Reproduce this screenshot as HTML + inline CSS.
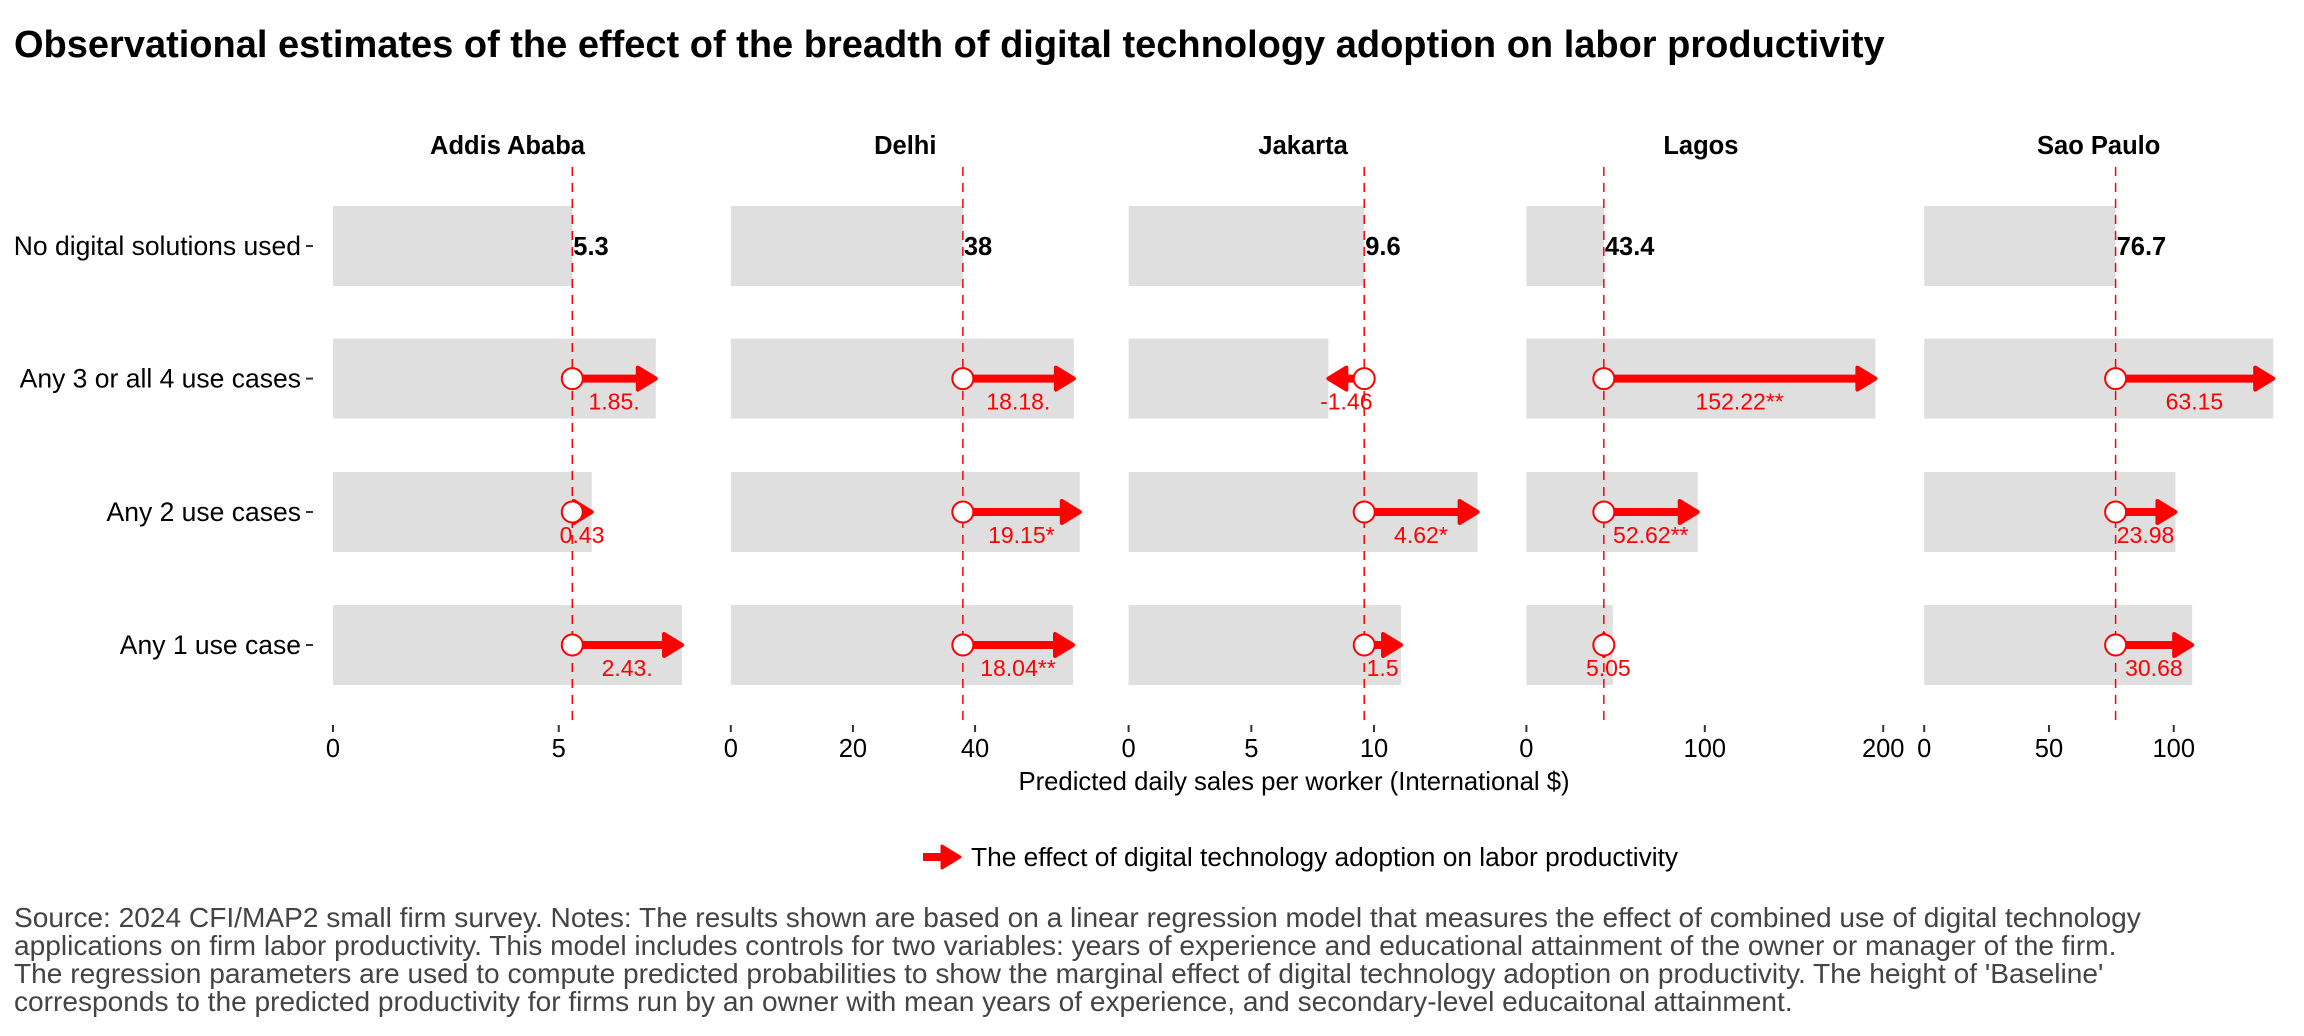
<!DOCTYPE html>
<html><head><meta charset="utf-8"><style>
body{margin:0;background:#fff;}
svg{display:block;font-family:"Liberation Sans",Arial,sans-serif;}
</style></head><body>
<svg id="chart" width="2304" height="1036" viewBox="0 0 2304 1036">
<text x="14" y="57" font-size="38" font-weight="bold" fill="#000">Observational estimates of the effect of the breadth of digital technology adoption on labor productivity</text>
<g id="plot"></g>
<text x="1294" y="790" font-size="25.7" text-anchor="middle" fill="#000">Predicted daily sales per worker (International $)</text>
<g>
<line x1="923" y1="857" x2="944" y2="857" stroke="#ff0000" stroke-width="8"/>
<polygon points="942,846 960,857 942,868" fill="#ff0000" stroke="#ff0000" stroke-width="3" stroke-linejoin="round"/>
<text x="971" y="866" font-size="26.3" fill="#000">The effect of digital technology adoption on labor productivity</text>
</g>
<g font-size="28.1" fill="#444">
<text x="14" y="927">Source: 2024 CFI/MAP2 small firm survey. Notes: The results shown are based on a linear regression model that measures the effect of combined use of digital technology</text>
<text x="14" y="955">applications on firm labor productivity. This model includes controls for two variables: years of experience and educational attainment of the owner or manager of the firm.</text>
<text x="14" y="983">The regression parameters are used to compute predicted probabilities to show the marginal effect of digital technology adoption on productivity. The height of 'Baseline'</text>
<text x="14" y="1011">corresponds to the predicted productivity for firms run by an owner with mean years of experience, and secondary-level educaitonal attainment.</text>
</g>
</svg>
<script>
const cities = ["Addis Ababa","Delhi","Jakarta","Lagos","Sao Paulo"];
const rowLabels = ["No digital solutions used","Any 3 or all 4 use cases","Any 2 use cases","Any 1 use case"];
const baseline = [5.3, 38, 9.6, 43.4, 76.7];
const effAny3 = [1.85, 18.18, -1.46, 152.22, 63.15];
const effAny2 = [0.43, 19.15, 4.62, 52.62, 23.98];
const effAny1 = [2.43, 18.04, 1.5, 5.05, 30.68];
const lblAny3 = ["1.85.","18.18.","-1.46","152.22**","63.15"];
const lblAny2 = ["0.43","19.15*","4.62*","52.62**","23.98"];
const lblAny1 = ["2.43.","18.04**","1.5","5.05","30.68"];
const ticks = [[0,5],[0,20,40],[0,5,10],[0,100,200],[0,50,100]];

const NS="http://www.w3.org/2000/svg";
const plot=document.getElementById('plot');
function mk(tag,attrs,parent){const e=document.createElementNS(NS,tag);for(const k in attrs)e.setAttribute(k,attrs[k]);(parent||plot).appendChild(e);return e;}
const panelLeft=333, panelStep=397.8, panelW=349;
const rowY=[246,378.6,512,645], barH=80;
const effs=[effAny3,effAny2,effAny1], lbls=[lblAny3,lblAny2,lblAny1];
const red="#ff0000";

rowLabels.forEach((r,i)=>{
  const t=mk('text',{x:301,y:rowY[i]+9,'font-size':26.5,'text-anchor':'end',fill:'#000'});
  t.textContent=r;
  
  
  const tk=mk('line',{x1:306,x2:313,y1:rowY[i],y2:rowY[i],stroke:'#333','stroke-width':2});
  
  
});

cities.forEach((c,p)=>{
  const x0=panelLeft+p*panelStep;
  const totals=[baseline[p]];
  effs.forEach(e=>totals.push(baseline[p]+e[p]));
  const max=Math.max(...totals);
  const sx=v=>x0+v/max*panelW;
  const g=mk('g',{});
  
  
  const tt=mk('text',{x:x0+panelW/2,y:154,'font-size':25.5,'font-weight':'bold','text-anchor':'middle',fill:'#000'},g);
  tt.textContent=c;
  
  
  totals.forEach((v,i)=>{
    const b=mk('rect',{x:x0,y:rowY[i]-barH/2,width:Math.max(0,sx(v)-x0),height:barH,fill:'#dfdfdf'},g);
    
    
  });
  const bx=sx(baseline[p]);
  const dl=mk('line',{x1:bx,x2:bx,y1:167,y2:726,stroke:red,'stroke-width':1.5,'stroke-dasharray':'9,7'},g);
  
  
  const bl=mk('text',{x:bx+1,y:rowY[0]+9,'font-size':25.5,'font-weight':'bold',fill:'#000'},g);
  bl.textContent=String(baseline[p]);
  
  
  effs.forEach((e,k)=>{
    const y=rowY[k+1], ex=sx(baseline[p]+e[p]);
    const dir=Math.sign(ex-bx)||1;
    const len=Math.abs(ex-bx);
    const hl=Math.min(18,len);
    const ln=mk('line',{x1:bx,y1:y,x2:ex-dir*hl,y2:y,stroke:red,'stroke-width':8},g);
    
    
    const hd=mk('polygon',{points:`${ex-dir*hl},${y-11} ${ex},${y} ${ex-dir*hl},${y+11}`,fill:red,stroke:red,'stroke-width':4,'stroke-linejoin':'round'},g);
    
    
    const ci=mk('circle',{cx:bx,cy:y,r:10.5,fill:'#fff',stroke:red,'stroke-width':2},g);
    
    
    const lt=mk('text',{x:(bx+ex)/2,y:y+31,'font-size':23,'text-anchor':'middle',fill:red},g);
    lt.textContent=lbls[k][p];
    
    
  });
  ticks[p].forEach(v=>{
    const tx=sx(v);
    const tl=mk('line',{x1:tx,x2:tx,y1:725,y2:732,stroke:'#333','stroke-width':2},g);
    
    
    const tlab=mk('text',{x:tx,y:757,'font-size':25.5,'text-anchor':'middle',fill:'#000'},g);
    tlab.textContent=String(v);
    
    
  });
});
</script>
</body></html>
